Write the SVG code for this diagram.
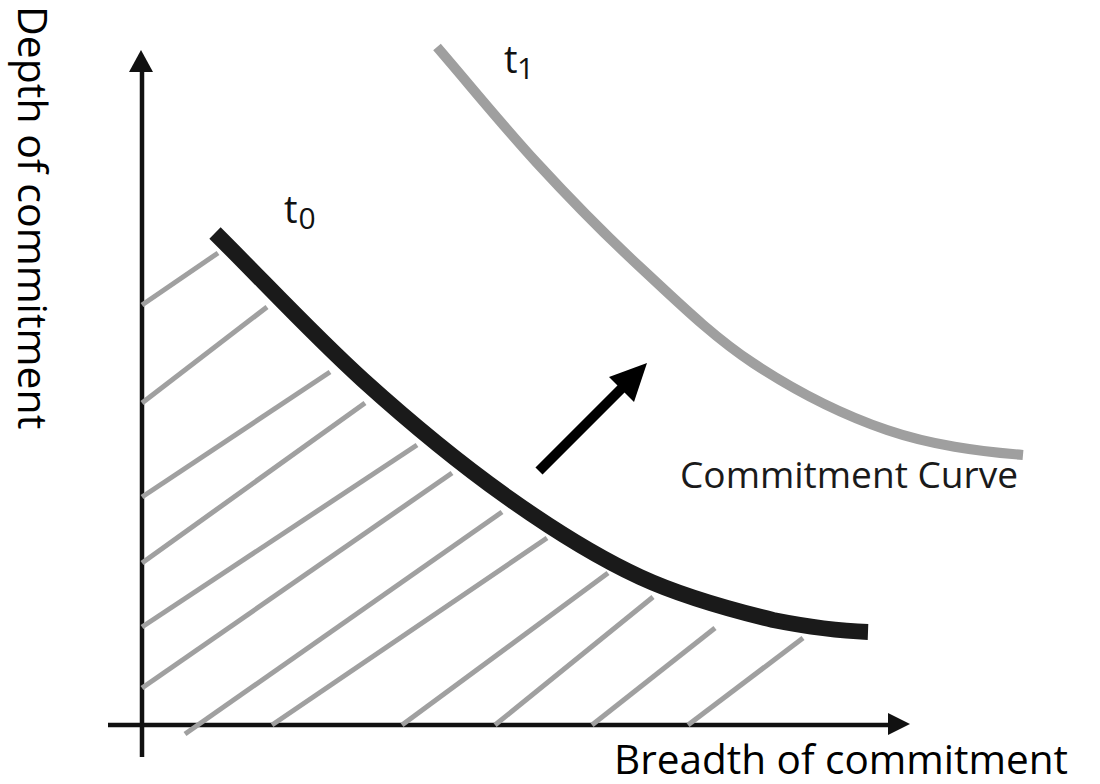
<svg xmlns="http://www.w3.org/2000/svg" width="1100" height="784" viewBox="0 0 1100 784">
<style>
.axis{stroke:#111;stroke-width:4.5;fill:none}
.head{fill:#111}
.hatch{stroke:#a0a0a0;stroke-width:5;stroke-linecap:butt;fill:none}
.label{font-family:"Open Sans","Liberation Sans",sans-serif;fill:#000}
.tlab{font-family:"Open Sans","Liberation Sans",sans-serif;fill:#111}
</style>
<rect x="0" y="0" width="1100" height="784" fill="#ffffff"/>
<g id="axes">
<line class="axis" x1="142" y1="70" x2="142" y2="757"/>
<polygon class="head" points="141,50 129,72 153,72"/>
<line class="axis" x1="108" y1="725" x2="890" y2="725"/>
<polygon class="head" points="910,724 888,713 888,735"/>
</g>
<g id="hatching">
<line class="hatch" x1="142" y1="305" x2="218" y2="253"/>
<line class="hatch" x1="142" y1="403" x2="267" y2="307"/>
<line class="hatch" x1="142" y1="497" x2="330" y2="372"/>
<line class="hatch" x1="142" y1="563" x2="365" y2="403"/>
<line class="hatch" x1="142" y1="627" x2="417" y2="445"/>
<line class="hatch" x1="142" y1="688" x2="452" y2="473"/>
<line class="hatch" x1="185" y1="734" x2="502" y2="512"/>
<line class="hatch" x1="272" y1="725" x2="547" y2="538"/>
<line class="hatch" x1="402" y1="725" x2="608" y2="573"/>
<line class="hatch" x1="495" y1="725" x2="653" y2="597"/>
<line class="hatch" x1="592" y1="725" x2="715" y2="628"/>
<line class="hatch" x1="688" y1="725" x2="803" y2="638"/>
</g>
<g id="curve-t1">
<path d="M437,47 C470.3,85.7 503.2,126.3 537,163 C570.8,199.7 604,233.7 640,267 C676,300.3 711.8,335.8 753,363 C794.2,390.2 842.2,414.7 887,430 C931.8,445.3 977,451 1023,455" stroke="#9f9f9f" stroke-width="10" fill="none" stroke-linecap="butt"/>
</g>
<g id="curve-t0">
<path d="M215,233 C264.3,282 314.3,336 363,380 C411.7,424 460.8,464.2 507,497 C553.2,529.8 595.7,556.5 640,577 C684.3,597.5 735,610.8 773,620 C811,627.5 840,631 868,632" stroke="#1a1a1a" stroke-width="16" fill="none" stroke-linecap="butt"/>
</g>
<g id="connectors">
<g id="shift-arrow">
<line x1="539" y1="471" x2="624" y2="386" stroke="#000" stroke-width="10" stroke-linecap="butt"/>
<polygon points="647,363 609,377 634,402" fill="#000"/>
</g>
</g>
<g id="label-t0">
<text class="tlab" x="284" y="223" font-size="38">t<tspan x="298.5" y="229" font-size="30">0</tspan></text>
</g>
<g id="label-t1">
<text class="tlab" x="504" y="73" font-size="38">t<tspan x="517" y="79" font-size="30">1</tspan></text>
</g>
<g id="label-curve">
<text x="680" y="488" font-size="37" textLength="338" lengthAdjust="spacingAndGlyphs" style="font-family:'Open Sans','Liberation Sans',sans-serif;fill:#1a1a1a">Commitment Curve</text>
</g>
<g id="label-x">
<text class="label" x="614" y="774" font-size="40.5">Breadth of commitment</text>
</g>
<g id="label-y">
<text class="label" transform="translate(18,6) rotate(90)" font-size="41">Depth of commitment</text>
</g>
</svg>
